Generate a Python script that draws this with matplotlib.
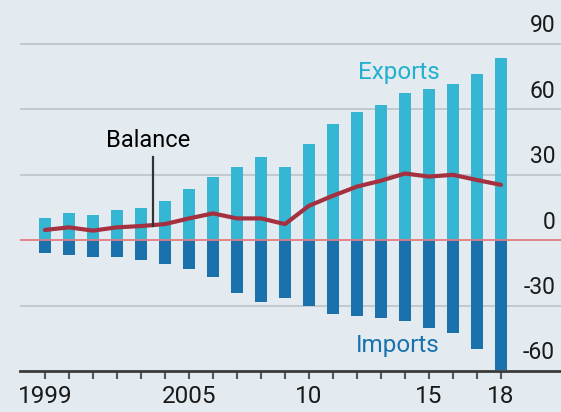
import matplotlib
matplotlib.use("Agg")
import matplotlib.pyplot as plt
import matplotlib.transforms as mtransforms

years = list(range(1999, 2019))
exports = [10.3, 12.3, 11.5, 13.8, 14.9, 18.1, 23.4, 28.8, 33.8, 38.4,
           33.4, 44.1, 53.2, 59.0, 61.9, 67.6, 69.2, 71.8, 76.4, 83.4]
imports = [-6.0, -6.8, -7.6, -7.9, -9.1, -10.9, -13.4, -16.7, -24.0, -28.2,
           -26.6, -30.2, -33.8, -34.7, -35.5, -37.0, -40.4, -42.7, -49.7, -59.5]
balance = [4.7, 5.9, 4.4, 5.9, 6.5, 7.4, 10.0, 12.3, 10.0, 10.0,
           7.4, 15.8, 20.4, 24.6, 27.3, 30.6, 29.2, 30.0, 27.6, 25.4]
y_ticks = [90, 60, 30, 0, -30, -60]
x_labels = {1999: "1999", 2005: "2005", 2010: "10", 2015: "15", 2018: "18"}

BG = "#e3ebf1"
EXP_C = "#35b6d2"
IMP_C = "#1b71ab"
BAL_C = "#a5303f"

plt.rcParams["font.family"] = ["Roboto", "DejaVu Sans"]

fig = plt.figure(figsize=(5.61, 4.12), dpi=100, facecolor=BG)
ax = fig.add_axes([20 / 561, 41 / 412, 541 / 561, 371 / 412])
ax.set_facecolor(BG)

# grid + zero line
for v in y_ticks:
    if v in (0, -60):
        continue
    ax.axhline(v, color="#b9c0c6", lw=1.1, zorder=0)
ax.axhline(0, color="#e27a82", lw=1.3, zorder=3)

ax.bar(years, exports, width=0.5, color=EXP_C, zorder=2)
ax.bar(years, imports, width=0.5, color=IMP_C, zorder=2)
ax.plot(years, balance, color=BAL_C, lw=3, zorder=4, solid_capstyle="round")

ax.set_xlim(1997.96, 2020.5)
ax.set_ylim(-60, 110.2)

for s in ("top", "left", "right"):
    ax.spines[s].set_visible(False)
ax.spines["bottom"].set_color("#3a3a3a")
ax.spines["bottom"].set_linewidth(2)
ax.spines["bottom"].set_zorder(5)

ax.set_yticks([])
ax.set_xticks(years)
ax.set_xticklabels([x_labels.get(y, "") for y in years], fontsize=17.5, color="#1a1a1a")
ax.tick_params(axis="x", direction="out", length=6, width=1.5, color="#555555", pad=4)

# right-side value labels sitting above gridlines
trans = mtransforms.blended_transform_factory(ax.transAxes, ax.transData)
for v in y_ticks:
    ax.text(0.989, v + 3.0, str(v), transform=trans, ha="right", va="bottom",
            fontsize=16.5, color="#1a1a1a")

ax.text(2013.75, 76.8, "Exports", color="#22b0cf", fontsize=17.5, ha="center", va="center")
ax.text(2013.7, -48.4, "Imports", color="#1a72ad", fontsize=17.5, ha="center", va="center")
ax.text(2003.3, 45.6, "Balance", color="black", fontsize=17, ha="center", va="center")
ax.plot([2003.5, 2003.5], [38.3, 6.4], color="#333333", lw=1.6, zorder=5)

fig.savefig("out.png", dpi=100, facecolor=BG)
